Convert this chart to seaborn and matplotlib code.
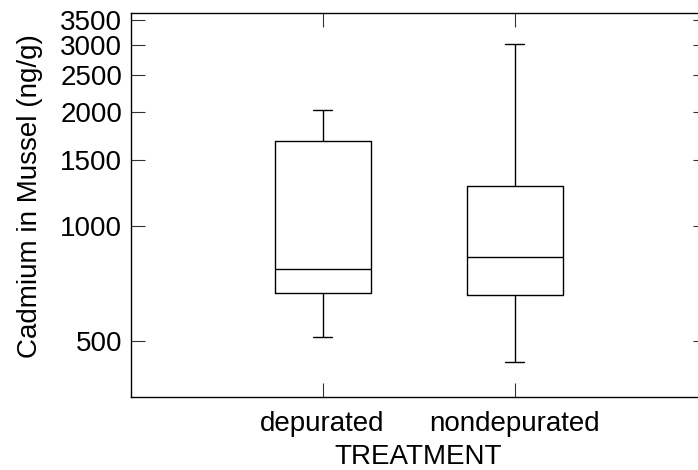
import numpy as np
import pandas as pd
import matplotlib
matplotlib.use("Agg")
import matplotlib.pyplot as plt
import seaborn as sns
from matplotlib.ticker import FixedLocator, FixedFormatter, NullLocator

# Data: five-number summaries (min, Q1, median, Q3, max)
categories = ["depurated", "nondepurated"]
depurated_values = [512, 669, 770, 1677, 2025]
nondepurated_values = [440, 661, 828, 1275, 3024]
y_ticks = [500, 1000, 1500, 2000, 2500, 3000, 3500]
y_tick_labels = ["500", "1000", "1500", "2000", "2500", "3000", "3500"]

df = pd.DataFrame({
    "TREATMENT": [categories[0]] * len(depurated_values) + [categories[1]] * len(nondepurated_values),
    "Cadmium": depurated_values + nondepurated_values,
})

sns.set_style("ticks")
plt.rcParams["font.family"] = ["Liberation Sans", "DejaVu Sans"]
plt.rcParams["text.color"] = "black"
plt.rcParams["axes.labelcolor"] = "black"

fig = plt.figure(figsize=(6.98, 4.70), dpi=100)
ax = fig.add_axes([130.5 / 698, (470 - 397) / 470, 576 / 698, 383.5 / 470])

sns.boxplot(
    data=df, x="TREATMENT", y="Cadmium", order=categories, ax=ax,
    width=0.5, whis=(0, 100), fill=False, color="black", linecolor="black",
    linewidth=1.0, log_scale=True, capwidths=0.104,
)

ax.set_yscale("log")
ax.set_ylim(355, 3640)
ax.set_xlim(-1, 2)
ax.yaxis.set_major_locator(FixedLocator(y_ticks))
ax.yaxis.set_major_formatter(FixedFormatter(y_tick_labels))
ax.yaxis.set_minor_locator(NullLocator())

for side in ["left", "bottom", "top", "right"]:
    ax.spines[side].set_visible(True)
    ax.spines[side].set_linewidth(1.0)
    ax.spines[side].set_color("black")

ax.tick_params(axis="both", which="major", direction="in", length=10, width=0.8,
               color="#333333", labelsize=20, labelcolor="black",
               top=True, right=True)
ax.tick_params(axis="y", pad=6)
ax.tick_params(axis="x", pad=10)

ax.set_ylabel("Cadmium in Mussel (ng/g)", fontsize=20, labelpad=12, color="black")
ax.yaxis.label.set_y(0.523)
ax.set_xlabel("TREATMENT", fontsize=20, labelpad=5, color="black")

fig.savefig("out.png", dpi=100)
